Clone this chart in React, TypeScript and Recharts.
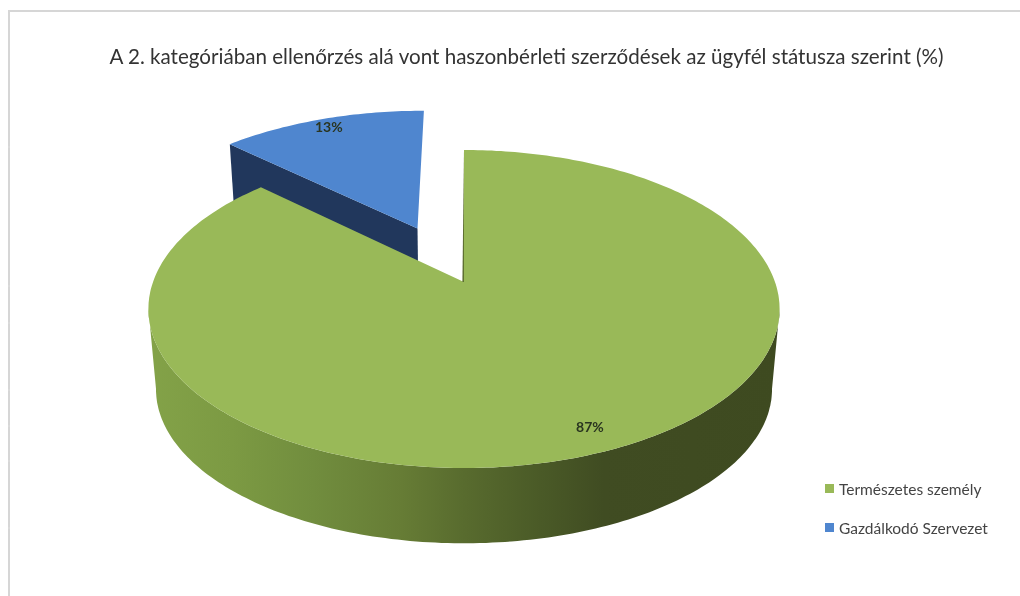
import { Legend, Pie, PieChart } from "recharts";

const title =
  "A 2. kategóriában ellenőrzés alá vont haszonbérleti szerződések az ügyfél státusza szerint (%)";
const categories = ["Természetes személy", "Gazdálkodó Szervezet"];
const shares = [87, 13];
const faceColors = ["#99b958", "#4f86cf"];
const cutColors = ["#5f7032", "#21375c"];
// how far each slice is pulled out of the pie, as a share of the radius
const explode = [0, 0.4];
const labelRadius = [0.88, 0.92];
// faint light streaks that run across the scanned picture
const streaks = [147, 286, 323, 390, 426, 461, 528];

const data = categories.map((name, i) => ({ name, value: shares[i], fill: faceColors[i] }));

const FONT = "Lato, 'Open Sans', sans-serif";
const TILT = 0.4965; // flattening of the disc
const PERSPECTIVE = 0.17;
const FLOOR_SCALE_X = 0.976;
const FLOOR_SCALE_Y = 0.97;
const FLOOR_DROP = 80;
const RAD = Math.PI / 180;

type Pt = [number, number];

// disc coordinates (u right, v away from the viewer) to screen
function project(cx: number, cy: number, r: number, u: number, v: number): Pt {
  const d = 1 + PERSPECTIVE * v;
  return [cx + (r * u) / d, cy - (r * TILT * v) / d];
}

// the same point on the lower rim of the pie
function drop(cx: number, cy: number, p: Pt): Pt {
  const rimCentre = cy + 27;
  return [cx + (p[0] - cx) * FLOOR_SCALE_X, rimCentre + FLOOR_DROP + (p[1] - rimCentre) * FLOOR_SCALE_Y];
}

const toPath = (pts: Pt[]) =>
  "M" + pts.map((p) => `${p[0].toFixed(1)} ${p[1].toFixed(1)}`).join("L") + "Z";

function Slice(props: any, layer: number) {
  const { cx, cy, outerRadius: r, startAngle, endAngle, index, fill } = props;
  if (index !== layer) return <g />;
  const mid = ((startAngle + endAngle) / 2) * RAD;
  const ou = explode[index] * Math.cos(mid);
  const ov = explode[index] * Math.sin(mid);
  const rim: Pt[] = [];
  const steps = Math.ceil(Math.abs(endAngle - startAngle));
  for (let s = 0; s <= steps; s++) {
    const a = (startAngle + ((endAngle - startAngle) * s) / steps) * RAD;
    rim.push(project(cx, cy, r, Math.cos(a) + ou, Math.sin(a) + ov));
  }
  const apex = project(cx, cy, r, ou, ov);
  const xs = rim.map((p) => p[0]);
  const from = xs.indexOf(Math.max(...xs));
  const to = xs.indexOf(Math.min(...xs));
  // only the front of the rim shows, from the right extreme round to the left one
  const front = rim.slice(from, to + 1);
  const floorFront = front.map((p) => drop(cx, cy, p)).reverse();
  const isBack = index === 1;
  const edge = rim[0]; // for both slices the first rim point is the cut that faces the viewer
  return (
    <g>
      {!isBack && <path d={toPath([...front, ...floorFront])} fill="url(#wallShade)" />}
      {isBack && (
        <path
          d={toPath([edge, apex, drop(cx, cy, apex), drop(cx, cy, edge)])}
          fill={cutColors[index]}
        />
      )}
      <path d={toPath([apex, ...rim])} fill={fill} />
      {!isBack && (
        <path d={toPath([apex, [apex[0] - 1.6, apex[1]], edge])} fill={cutColors[index]} />
      )}
    </g>
  );
}

function SliceLabel(props: any) {
  const { cx, cy, outerRadius: r, midAngle, index, value } = props;
  const a = midAngle * RAD;
  const rad = labelRadius[index] + explode[index];
  const [x, y] = project(cx, cy, r, rad * Math.cos(a), rad * Math.sin(a));
  return (
    <text
      x={x}
      y={y}
      textAnchor="middle"
      dominantBaseline="central"
      fontFamily={FONT}
      fontSize={14}
      fontWeight={700}
      fill="#2a3520"
    >
      {value}%
    </text>
  );
}

function LegendList() {
  return (
    <div style={{ fontFamily: FONT, fontSize: 15.5, color: "#444" }}>
      {categories.map((name, i) => (
        <div key={name} style={{ display: "flex", alignItems: "center", height: 39 }}>
          <span
            style={{ width: 9, height: 9, marginRight: 5, background: faceColors[i], display: "block" }}
          />
          {name}
        </div>
      ))}
    </div>
  );
}

export default function App() {
  return (
    <div
      style={{
        position: "absolute",
        left: 0,
        top: 0,
        width: 1020,
        height: 596,
        background: "#fff",
        overflow: "hidden",
        filter: "blur(0.6px)",
      }}
    >
      <div
        style={{
          position: "absolute",
          left: 8,
          top: 10,
          width: 1020,
          height: 600,
          borderLeft: "2px solid #d6d6d6",
          borderTop: "2px solid #d6d6d6",
        }}
      />
      <div
        style={{
          position: "absolute",
          left: 0,
          width: 1053,
          top: 44,
          textAlign: "center",
          fontFamily: FONT,
          fontSize: 20.6,
          color: "#333",
          whiteSpace: "nowrap",
        }}
      >
        {title}
      </div>
      <div style={{ position: "absolute", left: 0, top: 0 }}>
        <PieChart width={1020} height={596} margin={{ top: 0, right: 0, bottom: 0, left: 0 }}>
          <defs>
            <linearGradient id="wallShade" gradientUnits="userSpaceOnUse" x1={150} x2={780} y1={0} y2={0}>
              <stop offset="0" stopColor="#83a248" />
              <stop offset="0.13" stopColor="#7c9a43" />
              <stop offset="0.26" stopColor="#718d3e" />
              <stop offset="0.4" stopColor="#667c35" />
              <stop offset="0.5" stopColor="#586b2e" />
              <stop offset="0.62" stopColor="#4a5a27" />
              <stop offset="0.72" stopColor="#404c22" />
              <stop offset="1" stopColor="#3e4a20" />
            </linearGradient>
          </defs>
          <Pie
            data={data}
            dataKey="value"
            nameKey="name"
            cx={464}
            cy={282}
            outerRadius={311}
            startAngle={90}
            endAngle={-270}
            stroke="none"
            isAnimationActive={false}
            legendType="none"
            shape={(p: any) => Slice(p, 1)}
          />
          <Pie
            data={data}
            dataKey="value"
            nameKey="name"
            cx={464}
            cy={282}
            outerRadius={311}
            startAngle={90}
            endAngle={-270}
            stroke="none"
            isAnimationActive={false}
            legendType="none"
            shape={(p: any) => Slice(p, 0)}
            label={SliceLabel}
            labelLine={false}
          />
          <Legend
            layout="vertical"
            content={<LegendList />}
            wrapperStyle={{ left: 825, top: 469, width: 190 }}
          />
          {streaks.map((y) => (
            <line key={y} x1={0} x2={1020} y1={y} y2={y} stroke="#fff" strokeOpacity={0.2} />
          ))}
        </PieChart>
      </div>
    </div>
  );
}
